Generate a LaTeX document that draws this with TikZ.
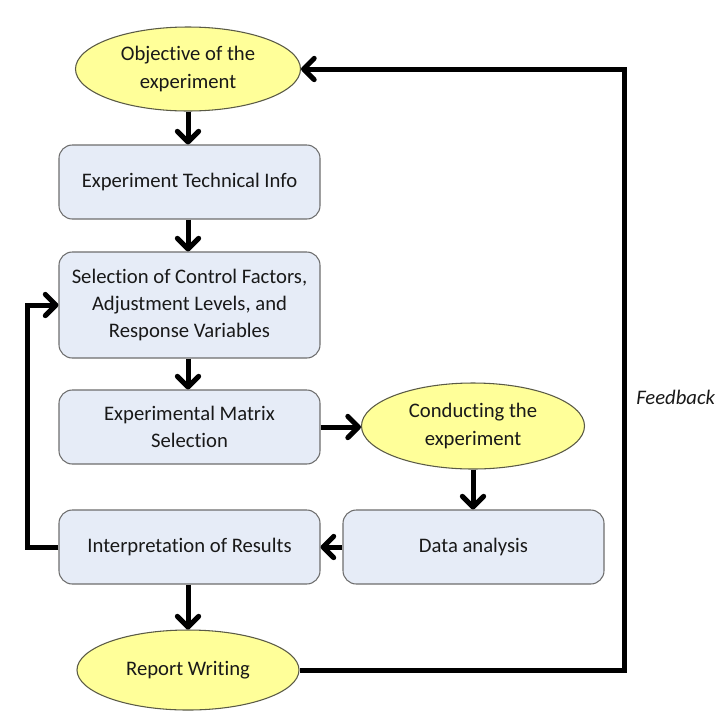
\documentclass[tikz,border=0pt]{standalone}
\usepackage{fontspec}
\setmainfont{Carlito}[Ligatures=NoCommon]
\usetikzlibrary{shapes.geometric,arrows.meta}
\definecolor{boxfill}{RGB}{230,236,247}
\definecolor{boxline}{RGB}{110,110,110}
\definecolor{ovalfill}{RGB}{255,255,153}
\definecolor{ovalline}{RGB}{90,90,70}
\tikzset{
  base/.style={font=\fontsize{15.5pt}{20.6pt}\selectfont, align=center, text=black!90, inner sep=0pt},
  stepbox/.style={base, draw=boxline, fill=boxfill, line width=0.8pt, rounded corners=10pt,
    minimum width=195.75pt, minimum height=55.5pt},
  oval/.style={base, ellipse, draw=ovalline, fill=ovalfill, line width=0.8pt},
  flow/.style={line width=3.75pt, -{Straight Barb[length=8pt,width=16pt,round]}},
  loop/.style={flow, line join=miter}
}
\begin{document}
\begin{tikzpicture}[x=0.75pt,y=-0.75pt]
\clip (0,0) rectangle (720,711);
\fill[white] (0,0) rectangle (720,711);

% process steps
\node[oval, minimum width=168.75pt, minimum height=63pt] (obj) at (188,69) {Objective of the\\experiment};
\node[stepbox] (info) at (189.5,182) {Experiment Technical Info};
\node[stepbox, minimum height=79.5pt] (sel) at (189.5,305) {Selection of Control Factors,\\Adjustment Levels, and\\Response Variables};
\node[stepbox] (mat) at (189.5,427) {Experimental Matrix\\Selection};
\node[oval, minimum width=167.25pt, minimum height=64.5pt] (cond) at (473,426) {Conducting the\\experiment};
\node[stepbox] (data) at (473.5,547) {Data analysis};
\node[stepbox] (interp) at (189.5,547) {Interpretation of Results};
\node[oval, minimum width=166.5pt, minimum height=60pt] (rep) at (188,670) {Report Writing};

% main flow
\draw[flow] (obj.south) -- (obj.south |- info.north);
\draw[flow] (info.south -| 188,0) -- (sel.north -| 188,0);
\draw[flow] (sel.south -| 188,0) -- (mat.north -| 188,0);
\draw[flow] (mat.east) -- (cond.west |- mat.east);
\draw[flow] (cond.south) -- (cond.south |- data.north);
\draw[flow] (data.west) -- (interp.east);
\draw[flow] (interp.south -| 188,0) -- (rep.north);

% feedback loops
\coordinate (fbL) at (27,430);
\coordinate (fbR) at (624,397);
\draw[loop] (interp.west) -| (fbL) |- (sel.west);
\draw[loop] (rep.east) -| (fbR) |- (obj.east);
\node[base, anchor=west, font=\fontsize{15.5pt}{20.6pt}\selectfont\itshape] (fbtext) at (636,397) {Feedback};
\end{tikzpicture}
\end{document}
